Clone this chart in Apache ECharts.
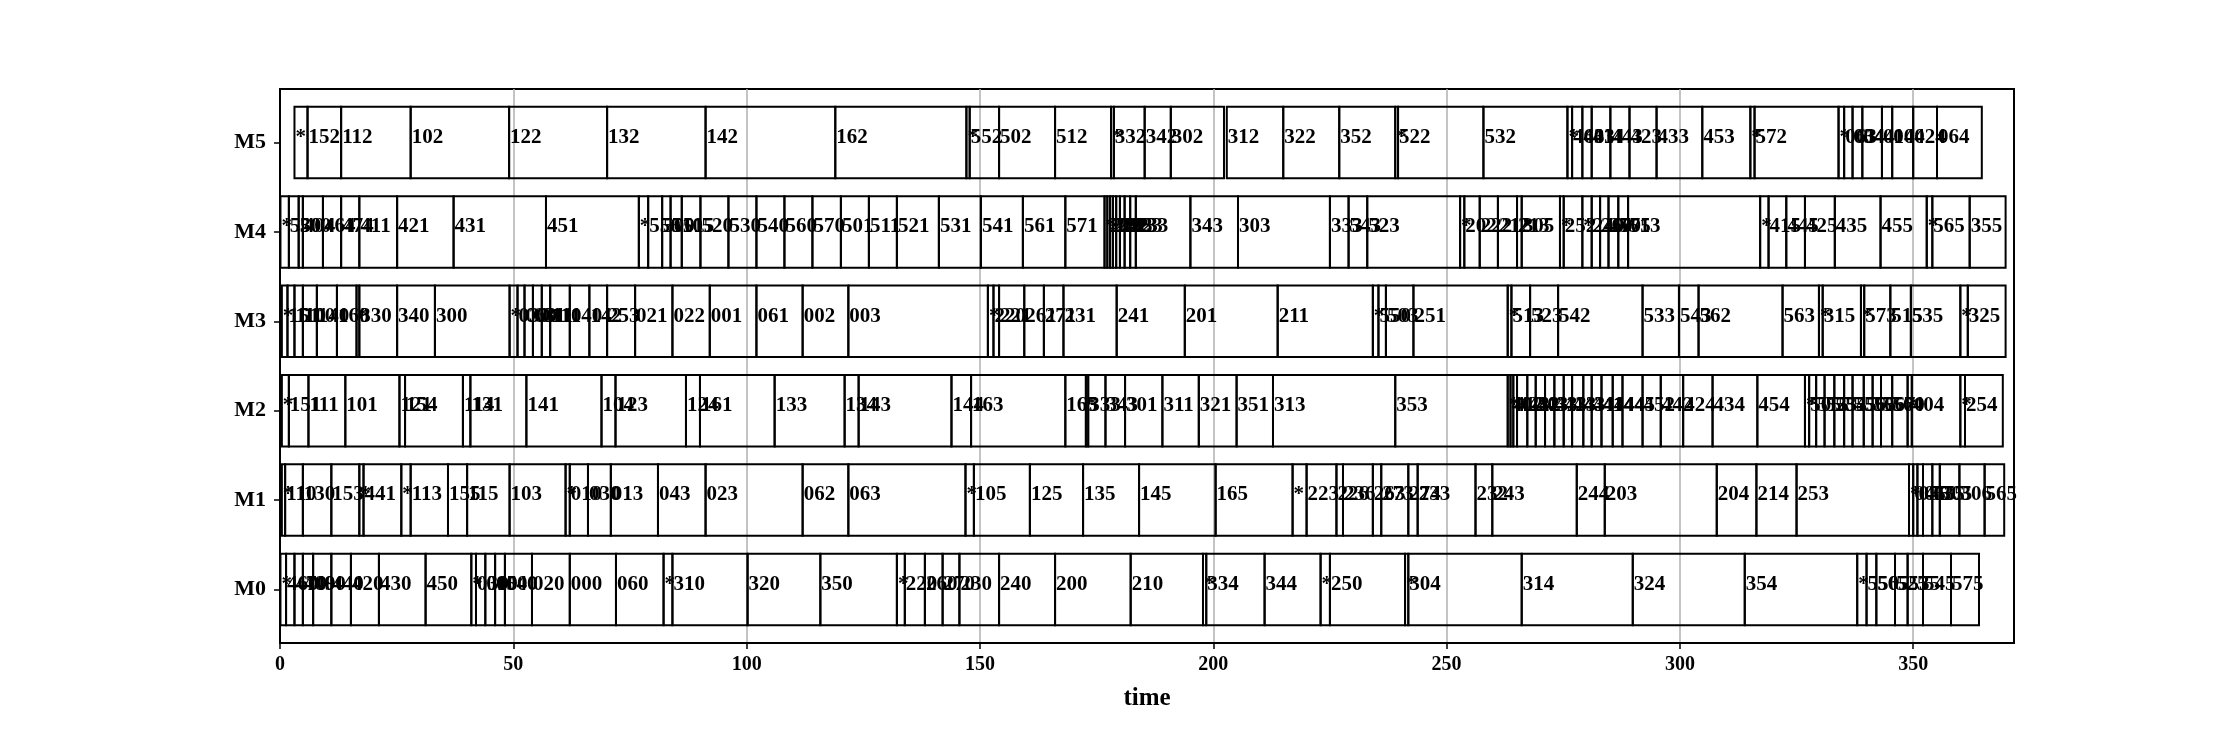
<!DOCTYPE html>
<html>
<head>
<meta charset="utf-8">
<script src="https://cdn.jsdelivr.net/npm/echarts@6/dist/echarts.min.js"></script>
<style>
html,body{margin:0;padding:0;background:#fff;}
#chart{width:2240px;height:736px;}
</style>
</head>
<body>
<div id="chart"></div>
<script>
// ---- data: [start, end, label] per machine ----
const machines = ['M0','M1','M2','M3','M4','M5'];
const xTicks = [0,50,100,150,200,250,300,350];

const M0 = [[0.1,1.3,'*'],[1.3,3.1,'460'],[3.1,4.9,'470'],[4.9,7.1,'400'],[7.1,11.0,'490'],[11.0,15.2,'440'],[15.2,21.2,'420'],[21.2,31.2,'430'],[31.2,41.0,'450'],[41.0,42.0,'*'],[42.0,44.0,'030'],[44.0,46.1,'010'],[46.1,48.2,'050'],[48.2,54.0,'040'],[54.0,62.1,'020'],[62.1,72.0,'000'],[72.0,82.2,'060'],[82.2,84.1,'*'],[84.1,100.2,'310'],[100.2,115.8,'320'],[115.8,132.2,'350'],[132.2,133.9,'*'],[133.9,138.2,'220'],[138.2,142.0,'260'],[142.0,145.6,'270'],[145.6,154.1,'230'],[154.1,166.1,'240'],[166.1,182.3,'200'],[182.3,197.8,'210'],[197.8,198.5,'*'],[198.5,211.0,'334'],[211.0,223.0,'344'],[223.0,225.0,'*'],[225.0,241.1,'250'],[241.1,241.8,'*'],[241.8,266.1,'304'],[266.1,289.9,'314'],[289.9,313.9,'324'],[313.9,338.0,'354'],[338.0,340.0,'*'],[340.0,342.1,'550'],[342.1,346.1,'565'],[346.1,348.8,'525'],[348.8,352.1,'535'],[352.1,358.1,'545'],[358.1,364.1,'575']];

const M1 = [[0.4,1.1,'*'],[1.1,4.9,'110'],[4.9,11.0,'130'],[11.0,17.0,'153'],[17.0,17.9,'*'],[17.9,26.0,'441'],[26.0,28.0,'*'],[28.0,36.0,'113'],[36.0,40.1,'155'],[40.1,49.2,'115'],[49.2,61.2,'103'],[61.2,62.1,'*'],[62.1,66.0,'010'],[66.0,70.9,'030'],[70.9,81.0,'013'],[81.0,91.2,'043'],[91.2,112.0,'023'],[112.0,121.8,'062'],[121.8,146.9,'063'],[146.9,148.7,'*'],[148.7,160.7,'105'],[160.7,172.1,'125'],[172.1,184.1,'135'],[184.1,200.5,'145'],[200.5,217.0,'165'],[217.0,220.0,'*'],[220.0,226.4,'223'],[226.4,227.8,'226'],[227.8,234.2,'236'],[234.2,236.0,'263'],[236.0,241.8,'273'],[241.8,243.8,'274'],[243.8,256.2,'233'],[256.2,259.8,'232'],[259.8,277.9,'243'],[277.9,283.9,'244'],[283.9,307.9,'203'],[307.9,316.4,'204'],[316.4,325.0,'214'],[325.0,349.1,'253'],[349.1,350.0,'*'],[350.0,350.9,'045'],[350.9,352.1,'055'],[352.1,354.1,'015'],[354.1,355.7,'035'],[355.7,359.9,'305'],[359.9,365.3,'306'],[365.3,369.5,'565']];

const M2 = [[0.4,1.9,'*'],[1.9,6.1,'151'],[6.1,14.0,'111'],[14.0,25.6,'101'],[25.6,26.8,'121'],[26.8,39.2,'154'],[39.2,40.8,'114'],[40.8,52.8,'131'],[52.8,68.9,'141'],[68.9,71.9,'104'],[71.9,87.0,'123'],[87.0,90.0,'124'],[90.0,106.0,'161'],[106.0,121.0,'133'],[121.0,124.0,'134'],[124.0,143.9,'143'],[143.9,148.1,'144'],[148.1,168.3,'163'],[168.3,172.7,'165'],[172.7,173.2,'*'],[173.2,176.9,'333'],[176.9,181.1,'343'],[181.1,189.1,'301'],[189.1,196.9,'311'],[196.9,205.0,'321'],[205.0,212.8,'351'],[212.8,239.0,'313'],[239.0,263.1,'353'],[263.1,263.7,'*'],[263.7,264.3,'402'],[264.3,265.1,'412'],[265.1,267.3,'422'],[267.3,269.1,'432'],[269.1,271.1,'403'],[271.1,273.1,'433'],[273.1,275.1,'413'],[275.1,276.9,'423'],[276.9,279.3,'443'],[279.3,281.1,'431'],[281.1,283.2,'441'],[283.2,285.6,'414'],[285.6,287.7,'444'],[287.7,292.0,'445'],[292.0,295.9,'452'],[295.9,300.7,'442'],[300.7,307.0,'424'],[307.0,316.6,'434'],[316.6,326.8,'454'],[326.8,327.7,'*'],[327.7,329.2,'505'],[329.2,331.0,'515'],[331.0,333.1,'525'],[333.1,335.2,'535'],[335.2,337.0,'545'],[337.0,339.4,'555'],[339.4,341.3,'565'],[341.3,343.1,'506'],[343.1,345.5,'556'],[345.5,348.8,'570'],[348.8,349.7,'*'],[349.7,360.1,'404'],[360.1,361.1,'*'],[361.1,369.2,'254']];

const M3 = [[0.4,1.6,'*'],[1.6,3.1,'151'],[3.1,4.9,'110'],[4.9,7.9,'100'],[7.9,12.2,'140'],[12.2,16.4,'160'],[16.4,17.0,'*'],[17.0,25.1,'330'],[25.1,33.2,'340'],[33.2,49.2,'300'],[49.2,50.9,'*'],[50.9,52.4,'030'],[52.4,54.2,'060'],[54.2,56.1,'031'],[56.1,57.9,'011'],[57.9,62.1,'110'],[62.1,66.3,'140'],[66.3,70.1,'142'],[70.1,76.1,'253'],[76.1,84.1,'021'],[84.1,92.1,'022'],[92.1,102.1,'001'],[102.1,112.0,'061'],[112.0,121.8,'002'],[121.8,151.7,'003'],[151.7,152.9,'*'],[152.9,154.1,'220'],[154.1,159.5,'221'],[159.5,163.7,'261'],[163.7,167.9,'271'],[167.9,179.3,'231'],[179.3,193.9,'241'],[193.9,213.8,'201'],[213.8,234.2,'211'],[234.2,235.4,'*'],[235.4,237.0,'550'],[237.0,242.9,'503'],[242.9,263.1,'251'],[263.1,263.9,'*'],[263.9,267.9,'513'],[267.9,273.9,'523'],[273.9,292.0,'542'],[292.0,299.8,'533'],[299.8,304.0,'543'],[304.0,322.0,'562'],[322.0,329.8,'563'],[329.8,330.6,'*'],[330.6,338.8,'315'],[338.8,339.5,'*'],[339.5,345.1,'573'],[345.1,349.5,'515'],[349.5,360.1,'535'],[360.1,361.7,'*'],[361.7,369.8,'325']];

const M4 = [[0.1,1.9,'*'],[1.9,4.0,'530'],[4.0,4.9,'500'],[4.9,9.2,'404'],[9.2,13.1,'464'],[13.1,17.0,'474'],[17.0,25.1,'411'],[25.1,37.2,'421'],[37.2,57.0,'431'],[57.0,76.9,'451'],[76.9,78.9,'*'],[78.9,81.9,'550'],[81.9,83.7,'500'],[83.7,86.1,'510'],[86.1,90.1,'515'],[90.1,96.1,'520'],[96.1,102.1,'530'],[102.1,108.1,'540'],[108.1,114.1,'560'],[114.1,120.2,'570'],[120.2,126.2,'501'],[126.2,132.2,'511'],[132.2,141.2,'521'],[141.2,150.2,'531'],[150.2,159.2,'541'],[159.2,168.3,'561'],[168.3,176.7,'571'],[176.7,177.3,'*'],[177.3,177.9,'202'],[177.9,178.5,'212'],[178.5,179.2,'222'],[179.2,180.0,'242'],[180.0,181.0,'203'],[181.0,182.2,'213'],[182.2,183.4,'223'],[183.4,195.1,'233'],[195.1,205.3,'343'],[205.3,225.0,'303'],[225.0,229.0,'333'],[229.0,233.0,'543'],[233.0,252.9,'523'],[252.9,253.8,'*'],[253.8,257.1,'202'],[257.1,261.0,'222'],[261.0,265.1,'212'],[265.1,266.1,'213'],[266.1,274.3,'305'],[274.3,275.1,'*'],[275.1,279.1,'252'],[279.1,281.1,'*'],[281.1,282.9,'240'],[282.9,284.7,'260'],[284.7,286.8,'270'],[286.8,288.9,'575'],[288.9,317.2,'513'],[317.2,319.0,'*'],[319.0,322.8,'415'],[322.8,326.8,'445'],[326.8,333.2,'425'],[333.2,343.0,'435'],[343.0,352.9,'455'],[352.9,354.1,'*'],[354.1,362.1,'565'],[362.1,369.8,'355']];

const M5 = [[3.1,5.9,'*'],[5.9,13.1,'152'],[13.1,28.0,'112'],[28.0,49.1,'102'],[49.1,70.1,'122'],[70.1,91.2,'132'],[91.2,119.0,'142'],[119.0,147.1,'162'],[147.1,147.8,'*'],[147.8,154.1,'552'],[154.1,166.1,'502'],[166.1,178.1,'512'],[178.1,178.7,'*'],[178.7,185.3,'332'],[185.3,190.9,'342'],[190.9,202.3,'302'],[202.9,215.0,'312'],[215.0,227.0,'322'],[227.0,239.0,'352'],[239.0,239.6,'*'],[239.6,257.9,'522'],[257.9,275.9,'532'],[275.9,276.9,'*'],[276.9,279.1,'463'],[279.1,281.1,'403'],[281.1,285.1,'414'],[285.1,289.2,'443'],[289.2,295.0,'423'],[295.0,304.8,'433'],[304.8,315.1,'453'],[315.1,316.0,'*'],[316.0,334.0,'572'],[334.0,335.2,'*'],[335.2,337.0,'063'],[337.0,339.1,'034'],[339.1,343.3,'044'],[343.3,345.5,'014'],[345.5,350.0,'004'],[350.0,355.1,'024'],[355.1,364.7,'064']];

const rows = [M0, M1, M2, M3, M4, M5];

// build flat list for the custom series
const items = [];
rows.forEach((row, yi) => row.forEach(t => items.push({start: t[0], end: t[1], y: yi, label: t[2]})));
const seriesData = items.map(it => [it.start, it.end, it.y]);

const FONT = '"Liberation Serif", "Times New Roman", serif';
const BAR_H = 0.8;

function renderItem(params, api) {
  const it = items[params.dataIndex];
  const p0 = api.coord([it.start, it.y + BAR_H / 2]);
  const p1 = api.coord([it.end, it.y - BAR_H / 2]);
  return {
    type: 'group',
    children: [
      {
        type: 'rect',
        shape: {x: p0[0], y: p0[1], width: p1[0] - p0[0], height: p1[1] - p0[1]},
        style: {fill: 'none', stroke: '#000', lineWidth: 2}
      },
      {
        type: 'text',
        x: p0[0] + 1,
        y: (p0[1] + p1[1]) / 2 - 5,
        z2: 10,
        style: {text: it.label, fill: '#000', font: 'bold 21px ' + FONT, align: 'left', verticalAlign: 'middle'}
      }
    ]
  };
}

const chart = echarts.init(document.getElementById('chart'), null, {renderer: 'canvas'});
chart.setOption({
  animation: false,
  backgroundColor: '#fff',
  grid: {left: 280, right: 226, top: 89, bottom: 93, show: true, borderColor: '#000', borderWidth: 2, backgroundColor: 'transparent'},
  xAxis: {
    type: 'value', min: 0, max: 371.6, interval: 50,
    name: 'time', nameLocation: 'middle', nameGap: 43,
    nameTextStyle: {fontFamily: FONT, fontWeight: 'bold', fontSize: 25, color: '#000'},
    axisLine: {show: true, onZero: false, lineStyle: {color: '#000', width: 2}},
    axisTick: {show: true, length: 6, customValues: xTicks, lineStyle: {color: '#000', width: 1.5}},
    axisLabel: {customValues: xTicks, margin: 12, fontFamily: FONT, fontWeight: 'bold', fontSize: 20, color: '#000'},
    splitLine: {show: true, lineStyle: {color: '#b0b0b0', width: 1.5}}
  },
  yAxis: {
    type: 'value', min: -0.6, max: 5.6,
    axisLine: {show: true, onZero: false, lineStyle: {color: '#000', width: 2}},
    axisTick: {show: true, length: 6, customValues: [0,1,2,3,4,5], lineStyle: {color: '#000', width: 1.5}},
    axisLabel: {customValues: [0,1,2,3,4,5], margin: 14, fontFamily: FONT, fontWeight: 'bold', fontSize: 22, color: '#000',
      formatter: v => machines[Math.round(v)] || ''},
    splitLine: {show: false}
  },
  series: [{
    type: 'custom',
    renderItem: renderItem,
    encode: {x: [0, 1], y: 2},
    data: seriesData,
    clip: false
  }]
});
</script>
</body>
</html>
